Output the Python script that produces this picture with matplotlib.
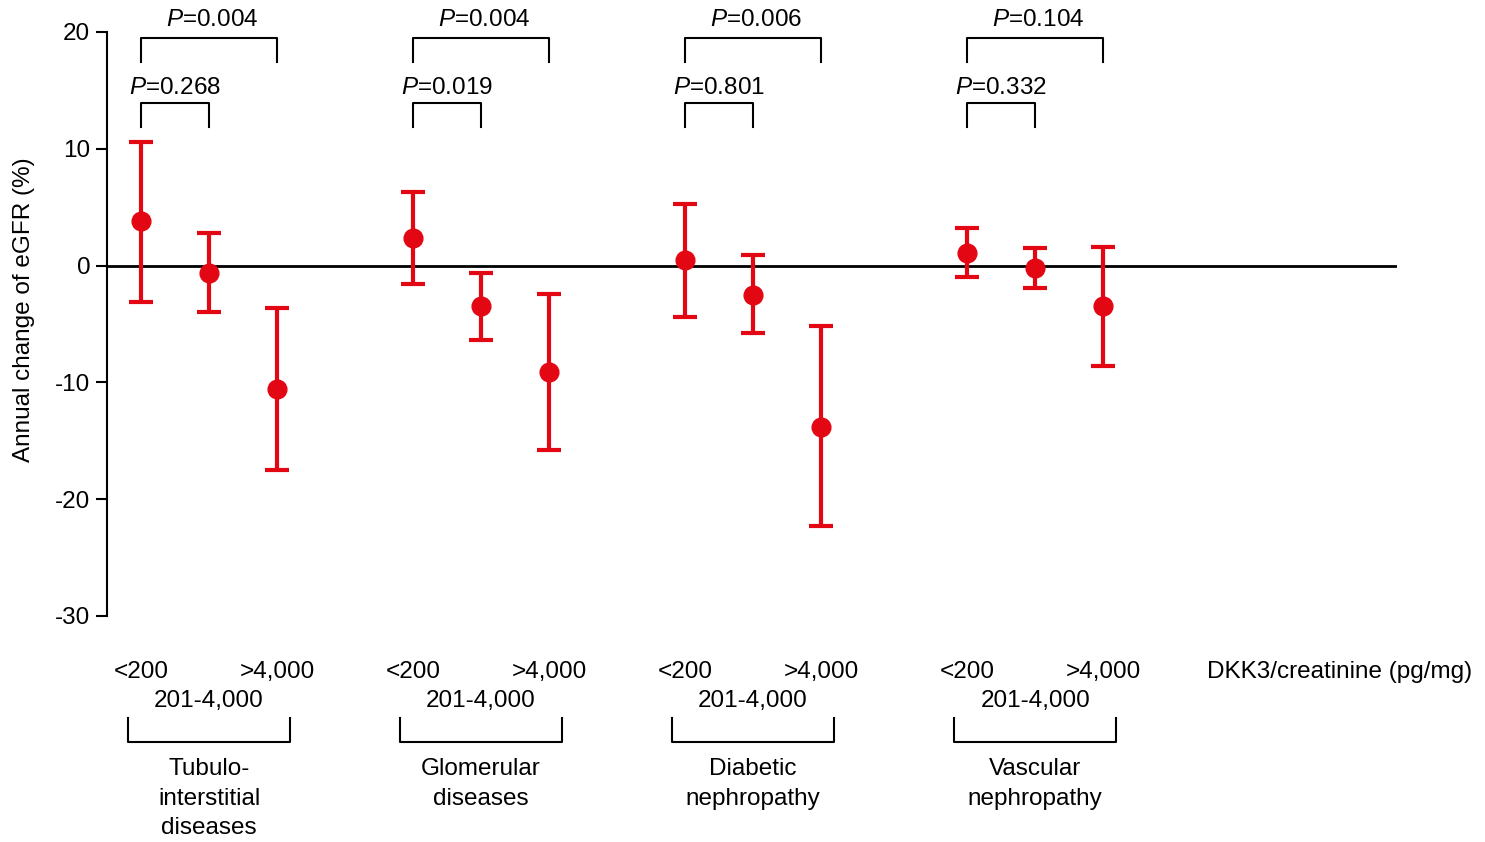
import matplotlib.pyplot as plt

plt.rcParams['font.family'] = ['Liberation Sans', 'DejaVu Sans']
plt.rcParams['mathtext.fontset'] = 'custom'
plt.rcParams['mathtext.rm'] = 'Liberation Sans'
plt.rcParams['mathtext.it'] = 'Liberation Sans:italic'

# Data
groups = ["Tubulo-\ninterstitial\ndiseases", "Glomerular\ndiseases",
          "Diabetic\nnephropathy", "Vascular\nnephropathy"]
levels = ["<200", "201-4,000", ">4,000"]
means = [[3.8, -0.6, -10.6], [2.4, -3.5, -9.1], [0.5, -2.5, -13.8], [1.1, -0.2, -3.5]]
upper = [[10.6, 2.8, -3.6], [6.3, -0.6, -2.4], [5.3, 0.9, -5.2], [3.2, 1.5, 1.6]]
lower = [[-3.1, -4.0, -17.5], [-1.6, -6.4, -15.8], [-4.4, -5.8, -22.3], [-1.0, -1.9, -8.6]]
p_low_mid = ["0.268", "0.019", "0.801", "0.332"]
p_low_high = ["0.004", "0.004", "0.006", "0.104"]

red = '#E30613'
fs = 17.5
group_start = [0, 4, 8, 12.15]

fig = plt.figure(figsize=(14.85, 8.42), dpi=100)
ax = fig.add_axes([107 / 1485, 1 - 616 / 842, 1290 / 1485, 584 / 842])
ax.set_xlim(-0.5, 18.47)
ax.set_ylim(-30, 20)

for g in range(4):
    xs = [group_start[g] + k for k in range(3)]
    yerr = [[m - lo for m, lo in zip(means[g], lower[g])],
            [u - m for m, u in zip(means[g], upper[g])]]
    ax.errorbar(xs, means[g], yerr=yerr, fmt='o', color=red, ms=13.5,
                elinewidth=3, capsize=8.5, capthick=3, zorder=3, clip_on=False)

    # significance brackets
    x0 = xs[0]
    ax.plot([x0, x0, xs[2], xs[2]], [17.4, 19.5, 19.5, 17.4], color='black', lw=1.5, clip_on=False)
    ax.text((x0 + xs[2]) / 2 + 0.05, 21.0, r'$P$=' + p_low_high[g], ha='center', va='center',
            fontsize=fs, clip_on=False)
    ax.plot([x0, x0, xs[1], xs[1]], [11.9, 13.9, 13.9, 11.9], color='black', lw=1.5, clip_on=False)
    ax.text((x0 + xs[1]) / 2, 15.2, r'$P$=' + p_low_mid[g], ha='center', va='center',
            fontsize=fs, clip_on=False)

    # category labels below
    ax.text(xs[0], -34.8, levels[0], ha='center', va='center', fontsize=fs, clip_on=False)
    ax.text(xs[2], -34.8, levels[2], ha='center', va='center', fontsize=fs, clip_on=False)
    ax.text(xs[1], -37.3, levels[1], ha='center', va='center', fontsize=fs, clip_on=False)
    gx = xs[1]
    ax.plot([gx - 1.19, gx - 1.19, gx + 1.19, gx + 1.19], [-38.7, -40.8, -40.8, -38.7],
            color='black', lw=1.5, clip_on=False)
    ax.text(gx, -42.2, groups[g], ha='center', va='top', fontsize=fs, linespacing=1.42,
            clip_on=False)

ax.text(17.63, -34.8, "DKK3/creatinine (pg/mg)", ha='center', va='center', fontsize=fs,
        clip_on=False)

ax.axhline(0, color='black', lw=2, zorder=1)
for s in ['top', 'right', 'bottom']:
    ax.spines[s].set_visible(False)
ax.spines['left'].set_linewidth(1.5)
ax.set_xticks([])
ax.set_yticks([20, 10, 0, -10, -20, -30])
ax.set_yticklabels(['20', '10', '0', '-10', '-20', '-30'], fontsize=fs)
ax.tick_params(axis='y', length=8, width=1.5, pad=4)
ax.set_ylabel("Annual change of eGFR (%)", fontsize=fs)
ax.yaxis.set_label_coords(-0.056, 0.524)

fig.savefig('out.png', dpi=100)
